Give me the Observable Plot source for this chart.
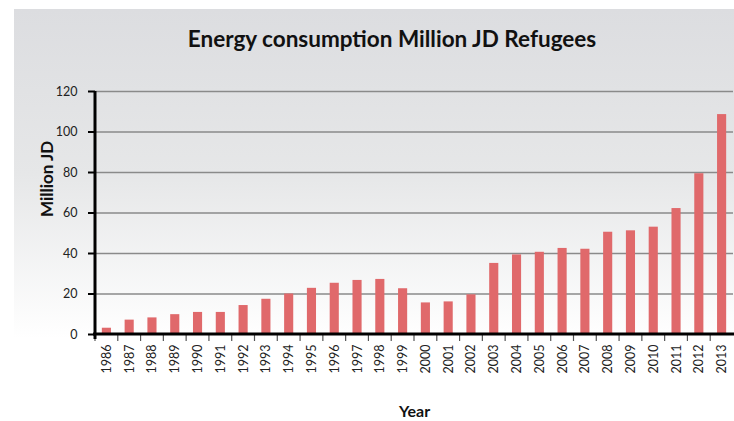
<!DOCTYPE html>
<html><head><meta charset="utf-8">
<script src="https://cdn.jsdelivr.net/npm/d3@7"></script>
<script src="https://cdn.jsdelivr.net/npm/@observablehq/plot@0.6"></script>
<style>
html,body{margin:0;padding:0;background:#fff;}
#wrap{position:relative;width:734px;height:421px;overflow:hidden;font-family:Lato,sans-serif;}
#panel{position:absolute;left:14px;top:9px;right:0;bottom:0;background:linear-gradient(to bottom,#dcdde0 0%,#e6e7e8 40%,#ffffff 80%);}
#title{position:absolute;left:0;top:24px;width:784px;text-align:center;font-weight:bold;font-size:22.5px;color:#111;line-height:30px;white-space:nowrap;}
#chart{position:absolute;left:0;top:56px;}
</style></head><body>
<div id="wrap"><div id="panel"></div><div id="title">Energy consumption Million JD Refugees</div><div id="chart"></div></div>
<script>
const years = ["1986","1987","1988","1989","1990","1991","1992","1993","1994","1995","1996","1997","1998","1999","2000","2001","2002","2003","2004","2005","2006","2007","2008","2009","2010","2011","2012","2013"];
const values = [3.1,7.1,8.2,9.8,10.9,10.9,14.3,17.4,20.0,22.8,25.3,26.7,27.2,22.6,15.6,16.1,19.6,35.1,39.3,40.6,42.5,42.1,50.5,51.2,53.0,62.2,79.4,108.6];
const yTicks = [0,20,40,60,80,100,120];
const gridTicks = [20,40,60,80,100,120];
const yMax = 120;
const xTitle = "Year";
const yTitle = "Million JD";

const data = years.map((yr, i) => ({year: yr, value: values[i]}));

function axisLines(index, scales, values, dimensions) {
  const {width, marginLeft, marginRight} = dimensions;
  const x = scales.x, y = scales.y;
  const g = d3.create("svg:g");
  const y0 = y(0);
  const step = x.step ? x.step() : (width - marginLeft - marginRight) / years.length;
  const bw = x.bandwidth ? x.bandwidth() : 0;
  for (const yr of years) {
    const bx = x(yr) + bw / 2 - step / 2;
    g.append("line").attr("x1", bx).attr("x2", bx).attr("y1", y0).attr("y2", y0 + 7)
      .attr("stroke", "#555").attr("stroke-width", 1.2);
  }
  g.append("line").attr("x1", marginLeft - 2).attr("x2", width).attr("y1", y0).attr("y2", y0)
    .attr("stroke", "#000").attr("stroke-width", 3);
  g.append("line").attr("x1", marginLeft).attr("x2", marginLeft).attr("y1", y(yMax)).attr("y2", y0 + 5)
    .attr("stroke", "#000").attr("stroke-width", 3);
  return g.node();
}

const chart = Plot.plot({
  width: 734,
  height: 365,
  marginTop: 35,
  marginBottom: 87,
  marginLeft: 95,
  marginRight: 1,
  style: {background: "transparent", fontFamily: "Lato, sans-serif", fontSize: "12px", color: "#222", overflow: "visible"},
  x: {type: "band", domain: years, paddingInner: 0.6, paddingOuter: 0.3, round: false},
  y: {domain: [0, yMax]},
  marks: [
    Plot.gridY(gridTicks, {stroke: "#8a8a8a", strokeOpacity: 1, strokeWidth: 1.5}),
    Plot.barY(data, {x: "year", y: "value", fill: "#e0696b"}),
    Plot.axisX({tickSize: 0, tickRotate: -90, tickPadding: 10, fontSize: 12.5, label: null}),
    Plot.axisY(yTicks, {tickSize: 7, tickPadding: 11, fontSize: 12.5, label: null, stroke: "#000", strokeWidth: 2}),
    axisLines,
    Plot.text([xTitle], {frameAnchor: "bottom", dy: 77, fontWeight: "bold", fontSize: 16, fill: "#111", lineAnchor: "middle"}),
    Plot.text([yTitle], {frameAnchor: "left", rotate: -90, dx: -48, dy: 4, fontWeight: "bold", fontSize: 17, fill: "#111", lineAnchor: "middle"})
  ]
});
document.getElementById("chart").appendChild(chart);
</script>
</body></html>
